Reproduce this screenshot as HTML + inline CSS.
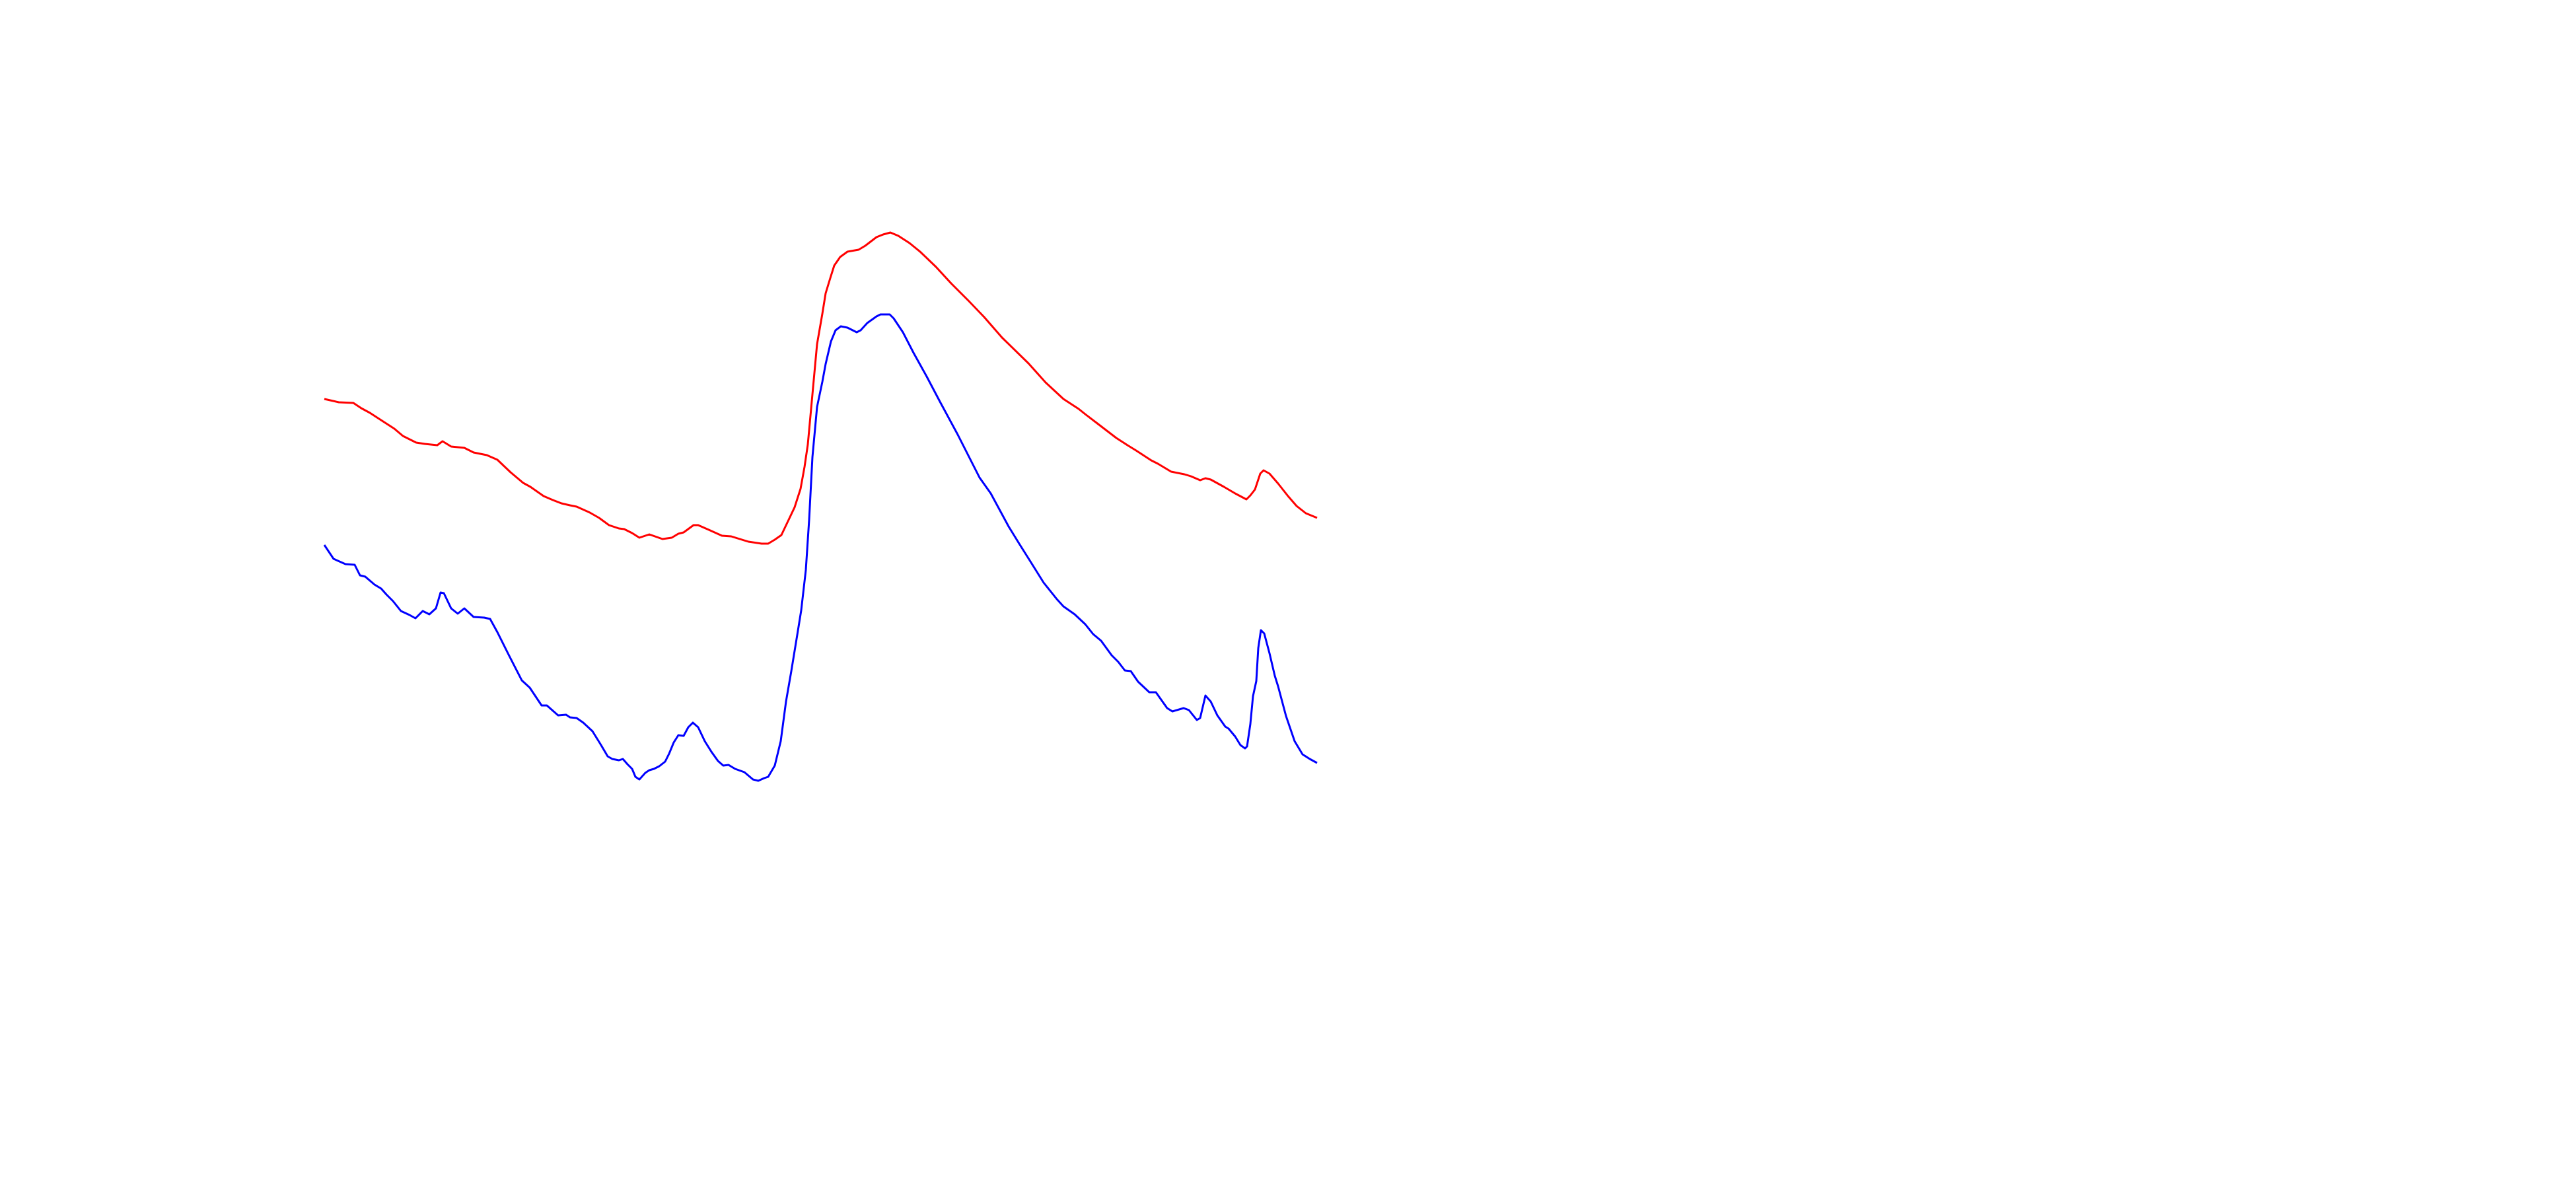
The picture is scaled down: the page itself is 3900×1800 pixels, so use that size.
<!DOCTYPE html>
<html>
<head>
<meta charset="utf-8">
<style>
  html, body { margin: 0; padding: 0; background: #ffffff; }
  #chart { display: block; width: 3900px; height: 1800px; }
</style>
</head>
<body>
<svg id="chart" xmlns="http://www.w3.org/2000/svg" width="3900" height="1800" viewBox="0 0 3900 1800">
  <rect x="0" y="0" width="3900" height="1800" fill="#ffffff"/>
  <g id="plot"></g>
</svg>
<script>
// Red series: time samples and amplitudes
const redTime = [0,22,44,56,69,89,106,119,139,152,171,179,192,212,226,246,262,282,301,312,332,346,359,372,382,402,416,431,446,454,466,477,492,512,526,536,544,559,566,582,602,616,642,662,672,682,692,702,712,721,727,732,739,746,754,759,766,772,781,792,809,819,836,846,857,869,886,902,926,949,976,999,1026,1066,1092,1119,1142,1152,1169,1199,1216,1229,1252,1262,1282,1302,1312,1326,1334,1342,1362,1379,1396,1402,1409,1417,1422,1431,1444,1459,1472,1486,1503];
const redValues = [296,291,290,282,275,262,251,240,230,228,226,232,224,222,215,211,204,185,169,163,149,143,138,135,133,124,116,105,100,99,93,86,91,84,86,92,94,105,105,98,89,88,80,77,77,83,90,111,132,160,193,227,303,379,425,456,479,498,511,519,522,528,541,545,548,543,532,519,496,471,444,420,389,350,321,296,281,273,260,237,226,218,203,198,186,182,179,173,176,174,163,153,144,150,159,183,188,183,168,149,134,123,116];
// Blue series: time samples and amplitudes
const blueTime = [0,14,32,46,54,62,76,86,94,104,116,129,138,149,159,169,176,181,192,202,212,226,242,251,262,279,299,311,329,337,354,366,372,382,392,406,419,429,436,446,452,459,466,471,477,486,492,499,507,516,522,529,536,544,551,558,566,576,586,596,604,612,622,636,649,657,666,672,682,691,699,707,717,722,729,734,739,746,754,759,767,774,782,792,806,812,822,836,842,856,862,876,892,912,932,959,992,1009,1036,1052,1069,1089,1109,1119,1136,1152,1164,1176,1192,1202,1212,1221,1232,1249,1259,1276,1284,1301,1309,1321,1326,1334,1342,1352,1364,1369,1379,1387,1394,1397,1402,1406,1411,1414,1418,1423,1431,1439,1444,1456,1469,1481,1492,1503];
const blueValues = [75,54,46,45,29,27,15,9,0,-10,-25,-31,-36,-25,-30,-21,3,2,-21,-29,-21,-34,-35,-37,-57,-91,-130,-141,-168,-168,-183,-182,-186,-187,-194,-207,-228,-245,-249,-251,-249,-257,-264,-276,-280,-270,-266,-264,-260,-253,-241,-224,-213,-214,-201,-194,-201,-222,-238,-252,-259,-258,-264,-269,-280,-282,-278,-276,-259,-222,-162,-116,-55,-24,37,113,208,284,322,349,383,400,406,404,397,400,411,421,424,424,418,397,366,330,292,242,177,153,103,77,50,18,-7,-18,-30,-45,-60,-70,-92,-102,-115,-116,-132,-148,-148,-172,-177,-172,-175,-190,-187,-153,-162,-183,-200,-203,-215,-228,-233,-230,-196,-154,-131,-81,-54,-59,-89,-123,-139,-184,-222,-242,-249,-255];

// Axis functions
const X0 = 491, Y0 = 900;
function xScale(t) { return X0 + t; }
function yScale(v) { return Y0 - v; }

const NS = 'http://www.w3.org/2000/svg';
const plot = document.getElementById('plot');

function buildPath(times, values) {
  let d = '';
  for (let i = 0; i < times.length; i++) {
    d += (i === 0 ? 'M' : 'L') + xScale(times[i]).toFixed(1) + ',' + yScale(values[i]).toFixed(1);
  }
  return d;
}

const redLine = document.createElementNS(NS, 'path');
redLine.setAttribute('d', buildPath(redTime, redValues));
redLine.setAttribute('fill', 'none');
redLine.setAttribute('stroke', '#ff0000');
redLine.setAttribute('stroke-width', '3');
redLine.setAttribute('stroke-linejoin', 'round');


plot.appendChild(redLine);

const blueLine = document.createElementNS(NS, 'path');
blueLine.setAttribute('d', buildPath(blueTime, blueValues));
blueLine.setAttribute('fill', 'none');
blueLine.setAttribute('stroke', '#0000ff');
blueLine.setAttribute('stroke-width', '3');
blueLine.setAttribute('stroke-linejoin', 'round');


plot.appendChild(blueLine);
</script>
</body>
</html>
